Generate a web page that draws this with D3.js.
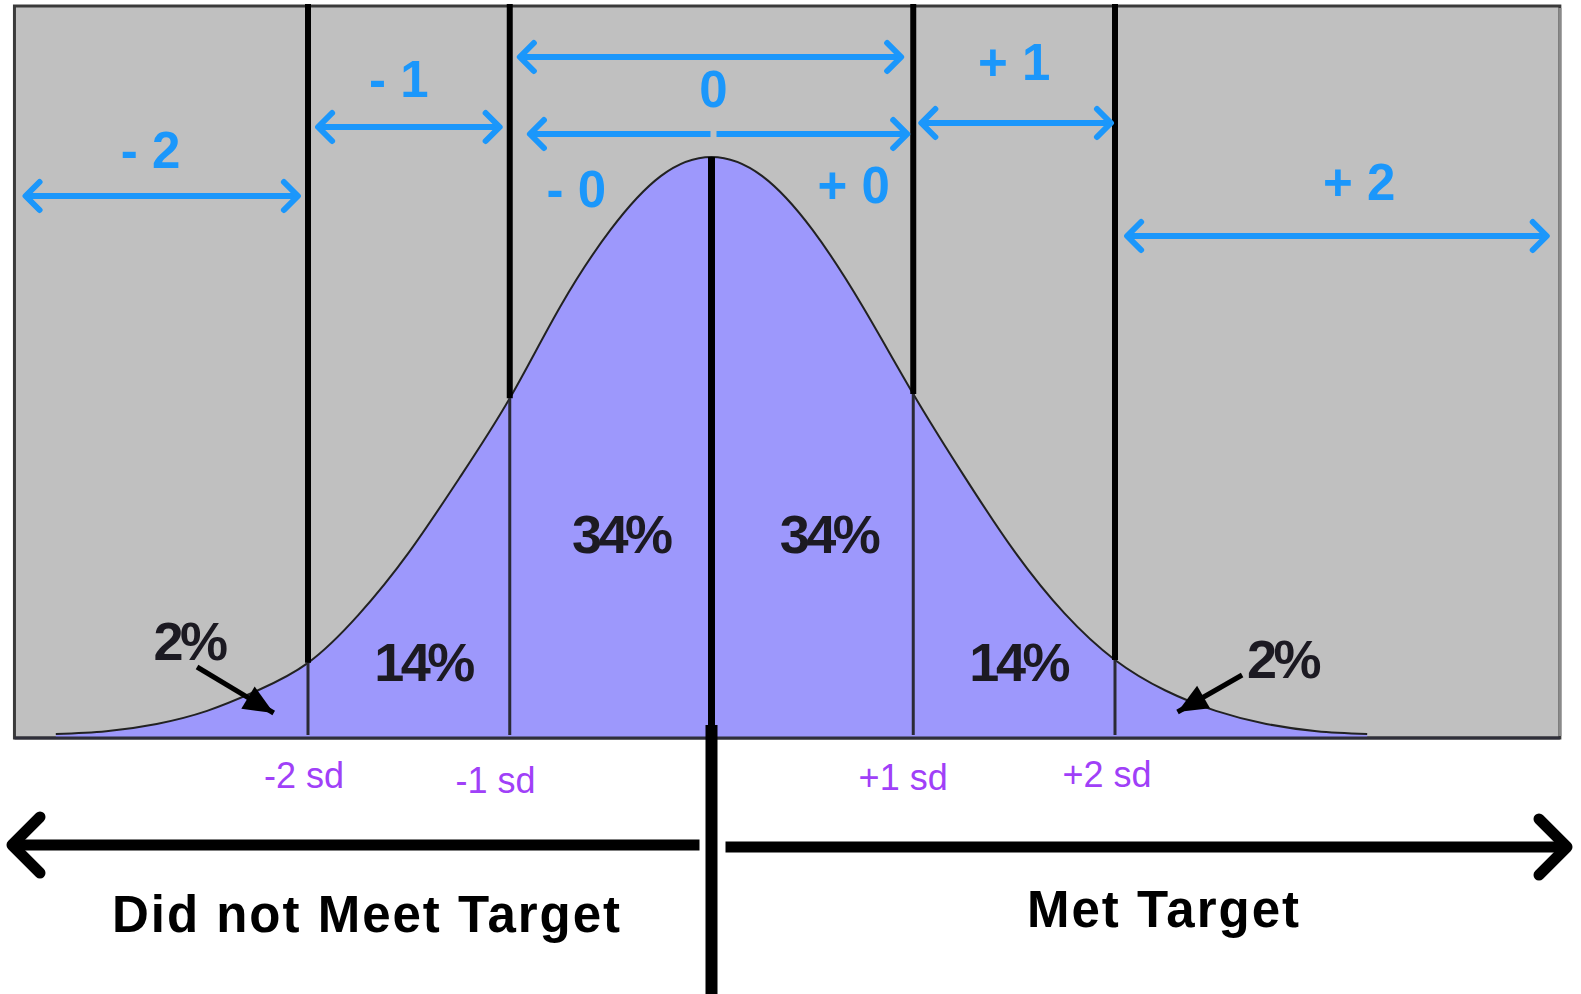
<!DOCTYPE html>
<html>
<head>
<meta charset="utf-8">
<script src="https://cdn.jsdelivr.net/npm/d3@7"></script>
<style>
  html, body { margin: 0; padding: 0; background: #ffffff; }
  svg { display: block; font-family: "Liberation Sans", Arial, sans-serif; }
</style>
</head>
<body>
<svg id="chart" width="1581" height="994"></svg>
<script>
// curve heights (sd offset -> density)
var sdSteps = [-3.25,-3,-2.75,-2.5,-2.25,-2,-1.75,-1.5,-1.25,-1,-0.75,-0.5,-0.25,0,
               0.25,0.5,0.75,1,1.25,1.5,1.75,2,2.25,2.5,2.75,3,3.25];
var density = [0.002,0.004,0.009,0.018,0.032,0.051,0.084,0.127,0.178,0.233,0.296,0.349,0.386,0.399,
               0.386,0.349,0.296,0.236,0.180,0.128,0.085,0.053,0.032,0.018,0.009,0.004,0.002];
var cutoffs = [-2,-1,0,1,2];
var bandNames = ['- 2','- 1','0','+ 1','+ 2'];
var halfNames = ['- 0','+ 0'];
var pctLabels = ['2%','14%','34%','34%','14%','2%'];
var sdLabels = ['-2 sd','-1 sd','+1 sd','+2 sd'];
var sideLabels = ['Did not Meet Target','Met Target'];

var svg = d3.select('#chart');
var x = d3.scaleLinear().domain([-2,2]).range([308,1115]);
var y = d3.scaleLinear().domain([0,0.399]).range([737,157]);
var blue = '#1b97fb', purple = '#a040f8';

var pts = sdSteps.map(function(s,i){ return {s:s, d:density[i]}; });
var dens = function(s){
	var i = d3.bisectLeft(sdSteps, s);
	if (sdSteps[i] === s) return density[i];
	var a = pts[i-1], b = pts[i], t = (s-a.s)/(b.s-a.s);
	return a.d + (b.d-a.d)*t;
};

// background panel
svg.append('rect')
	.attr('x', x(-3.455)).attr('y', 6)
	.attr('width', x(4.205)-x(-3.455)).attr('height', 732)
	.style('fill', '#c0c0c0')
	.style('stroke', '#3a3a3a').style('stroke-width', 3);
svg.append('line').attr('x1', x(4.205)).attr('x2', x(4.205)).attr('y1', 8).attr('y2', 736)
	.style('stroke', '#8a8a8a').style('stroke-width', 3);

// curve fill + outline
var area = d3.area().x(function(d){return x(d.s);}).y0(y(0)).y1(function(d){return y(d.d);})
	.curve(d3.curveNatural);
var line = d3.line().x(function(d){return x(d.s);}).y(function(d){return y(d.d);})
	.curve(d3.curveNatural);
svg.append('path').attr('d', area(pts)).style('fill', '#9d98fc');
svg.append('path').attr('d', line(pts))
	.style('fill', 'none').style('stroke', '#222').style('stroke-width', 2);

// base line of the panel
svg.append('line').attr('x1', x(-3.455)).attr('x2', x(4.205))
	.attr('y1', y(0)+1).attr('y2', y(0)+1)
	.style('stroke', '#2f2f3a').style('stroke-width', 3);

// cutoff lines: heavy above the curve, thin inside it
cutoffs.forEach(function(c){
	var top = y(dens(c));
	if (c !== 0) {
		svg.append('line').attr('x1', x(c)).attr('x2', x(c)).attr('y1', 4).attr('y2', top)
			.style('stroke', '#000').style('stroke-width', 6);
		svg.append('line').attr('x1', x(c)).attr('x2', x(c)).attr('y1', top).attr('y2', y(0)-2)
			.style('stroke', '#2a2a35').style('stroke-width', 3);
	} else {
		svg.append('line').attr('x1', x(c)).attr('x2', x(c)).attr('y1', top).attr('y2', y(0))
			.style('stroke', '#000').style('stroke-width', 7);
		svg.append('line').attr('x1', x(c)).attr('x2', x(c)).attr('y1', y(0)-12).attr('y2', 994)
			.style('stroke', '#000').style('stroke-width', 12);
	}
});

// arrow helper: from a to b at height h, heads at either end
function arrow(g, a, b, h, headL, headR, col, w, hs){
	g.append('line').attr('x1', a).attr('x2', b).attr('y1', h).attr('y2', h)
		.style('stroke', col).style('stroke-width', w).style('stroke-linecap', 'butt');
	var p = '';
	if (headL) p += 'M'+(a+hs)+','+(h-hs)+'L'+a+','+h+'L'+(a+hs)+','+(h+hs);
	if (headR) p += 'M'+(b-hs)+','+(h-hs)+'L'+b+','+h+'L'+(b-hs)+','+(h+hs);
	g.append('path').attr('d', p).style('fill', 'none').style('stroke', col)
		.style('stroke-width', w).style('stroke-linecap', 'round').style('stroke-linejoin', 'round');
}

// blue band arrows and names
var bands = [
	{from:-3.40, to:-2.05, h:196, tx:-2.78, ty:168},
	{from:-1.95, to:-1.05, h:127, tx:-1.55, ty:97},
	{from:-0.95, to:0.94,  h:57,  tx:0.01,  ty:107},
	{from:1.04,  to:1.98,  h:123, tx:1.50,  ty:80},
	{from:2.06,  to:4.14,  h:236, tx:3.21,  ty:200}
];
var gb = svg.append('g').attr('id', 'bands');
bands.forEach(function(b,i){
	arrow(gb, x(b.from), x(b.to), b.h, true, true, blue, 6, 14);
	gb.append('text').text(bandNames[i])
		.attr('x', x(b.tx)).attr('y', b.ty)
		.style('fill', blue).style('font-size', '51px').style('font-weight', 'bold')
		.style('text-anchor', 'middle');
});
arrow(gb, x(-0.90), x(0)-1, 134, true, false, blue, 6, 14);
arrow(gb, x(0)+5, x(0.97), 134, false, true, blue, 6, 14);
gb.selectAll('text.half').data(halfNames).enter().append('text').attr('class', 'half')
	.text(function(d){return d;})
	.attr('x', function(d,i){return i===0 ? x(-0.67) : x(0.705);})
	.attr('y', function(d,i){return i===0 ? 207 : 203;})
	.style('fill', blue).style('font-size', '51px').style('font-weight', 'bold')
	.style('text-anchor', 'middle');

// percentages
var pctPos = [{s:-2.59, ty:660}, {s:-1.43, ty:681}, {s:-0.45, ty:553},
              {s:0.58, ty:553}, {s:1.52, ty:681}, {s:2.83, ty:678}];
svg.append('g').attr('id', 'pct').selectAll('text').data(pctLabels).enter().append('text')
	.text(function(d){return d;})
	.attr('x', function(d,i){return x(pctPos[i].s);})
	.attr('y', function(d,i){return pctPos[i].ty;})
	.style('fill', '#1c1a22').style('font-size', '54px').style('font-weight', 'bold')
	.style('letter-spacing', '-3.5px').style('text-anchor', 'middle');

// small pointers from the 2% labels to the tails
function pointer(x0, y0, x1, y1){
	svg.append('line').attr('x1', x0).attr('y1', y0).attr('x2', x1).attr('y2', y1)
		.style('stroke', '#000').style('stroke-width', 5);
	var ang = Math.atan2(y1-y0, x1-x0), L = 30, W = 13;
	var bx = x1 - L*Math.cos(ang), by = y1 - L*Math.sin(ang);
	svg.append('path').attr('d', 'M'+x1+','+y1+
		'L'+(bx - W*Math.sin(ang))+','+(by + W*Math.cos(ang))+
		'L'+(bx + W*Math.sin(ang))+','+(by - W*Math.cos(ang))+'Z')
		.style('fill', '#000');
}
pointer(x(-2.55), 667, x(-2.17), 713);
pointer(x(2.63), 675, x(2.31), 712);

// sd labels under the panel
var sdPos = [{s:-2.02, ty:788}, {s:-1.07, ty:793}, {s:0.95, ty:790}, {s:1.96, ty:787}];
svg.append('g').attr('id', 'sdlabels').selectAll('text').data(sdLabels).enter().append('text')
	.text(function(d){return d;})
	.attr('x', function(d,i){return x(sdPos[i].s);})
	.attr('y', function(d,i){return sdPos[i].ty;})
	.style('fill', purple).style('font-size', '36px')
	.style('text-anchor', 'middle');

// bottom black arrows
var gk = svg.append('g').attr('id', 'target');
arrow(gk, 12, x(0)-12, 845, true, false, '#000', 11, 28);
arrow(gk, x(0)+14, 1567, 847, false, true, '#000', 11, 28);
gk.selectAll('text').data(sideLabels).enter().append('text')
	.text(function(d){return d;})
	.attr('x', function(d,i){return i===0 ? 367 : 1164;})
	.attr('y', function(d,i){return i===0 ? 932 : 927;})
	.style('fill', '#000').style('font-size', '51px').style('font-weight', 'bold')
	.style('letter-spacing', '2px')
	.style('text-anchor', 'middle');
</script>
</body>
</html>
